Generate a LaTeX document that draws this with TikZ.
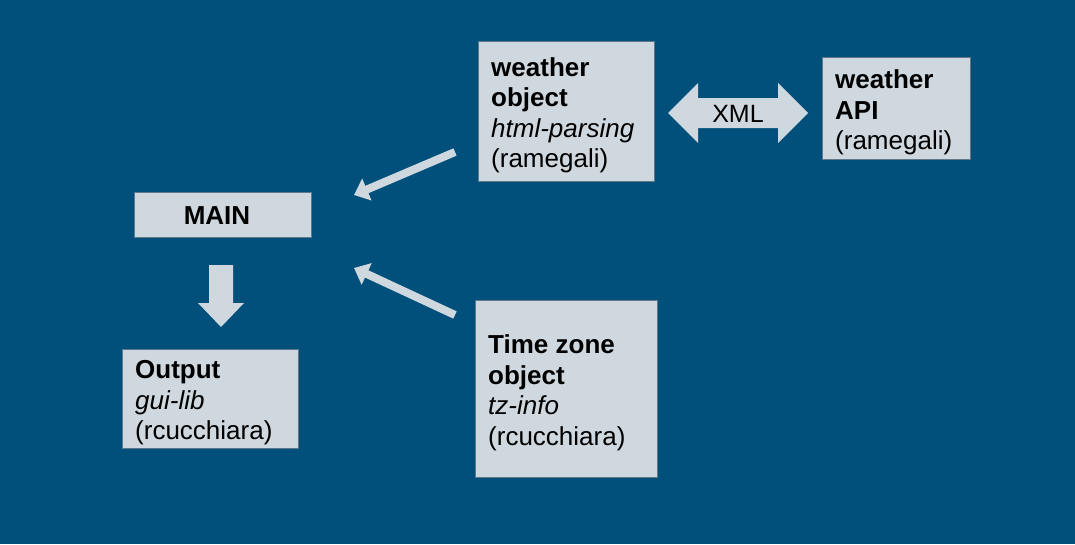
\documentclass[tikz,border=0pt]{standalone}
\usepackage{fontspec}
\setmainfont{Liberation Sans}
\usetikzlibrary{arrows.meta}
\definecolor{bg}{RGB}{0,80,123}
\definecolor{boxfill}{RGB}{207,216,222}
\definecolor{boxline}{RGB}{95,120,140}
\tikzset{
  box/.style={draw=boxline, line width=0.8pt, fill=boxfill, rectangle, anchor=north west, inner sep=0pt},
  boxtext/.style={anchor=west, inner sep=0pt, align=left, text=black,
    font=\fontsize{26}{30.5}\selectfont},
  blockarrow/.style={fill=boxfill, draw=none},
  thinarrow/.style={draw=boxfill, line width=8pt, -{Triangle[width=23pt,length=14pt]}},
}
\begin{document}
\begin{tikzpicture}[x=1pt,y=-1pt]
\fill[bg] (0,0) rectangle (1075,544);
\useasboundingbox (0,0) rectangle (1075,544);

\node[box, minimum width=176pt, minimum height=140pt] (wobj) at (478,41) {};
\node[boxtext] (wobjt) at ([xshift=13pt,yshift=-4pt]wobj.west)
  {\textbf{weather}\\\textbf{object}\\\textit{html-parsing}\\(ramegali)};
\node[box, minimum width=148pt, minimum height=102pt] (wapi) at (822,57) {};
\node[boxtext] (wapit) at ([xshift=13pt,yshift=-4pt]wapi.west)
  {\textbf{weather}\\\textbf{API}\\(ramegali)};
\node[box, minimum width=177pt, minimum height=45pt] (main) at (134,192) {};
\node[boxtext, anchor=center] (maint) at (217,216) {\textbf{MAIN}};
\node[box, minimum width=176pt, minimum height=99pt] (out) at (122,349) {};
\node[boxtext] (outt) at ([xshift=13pt,yshift=-4pt]out.west)
  {\textbf{Output}\\\textit{gui-lib}\\(rcucchiara)};
\node[box, minimum width=182pt, minimum height=177pt] (tz) at (475,300) {};
\node[boxtext] (tzt) at ([xshift=13pt,yshift=-4pt]tz.west)
  {\textbf{Time zone}\\\textbf{object}\\\textit{tz-info}\\(rcucchiara)};

% XML double block arrow
\fill[blockarrow] (668,113) -- (698,83) -- (698,98) -- (778,98) -- (778,83) -- (808,113)
  -- (778,143) -- (778,128) -- (698,128) -- (698,143) -- cycle;
\node[font=\fontsize{25}{30}\selectfont, text=black] (xml) at (738,114) {XML};

% down block arrow
\fill[blockarrow] (209,265) -- (233,265) -- (233,303) -- (244,303) -- (221,327)
  -- (198,303) -- (209,303) -- cycle;

% diagonal arrows
\coordinate (a1s) at (455,152);
\coordinate (a1e) at (354,195);
\coordinate (a2s) at (455,315);
\coordinate (a2e) at (354,268);
\draw[thinarrow] (a1s) -- (a1e);
\draw[thinarrow] (a2s) -- (a2e);
\end{tikzpicture}
\end{document}
